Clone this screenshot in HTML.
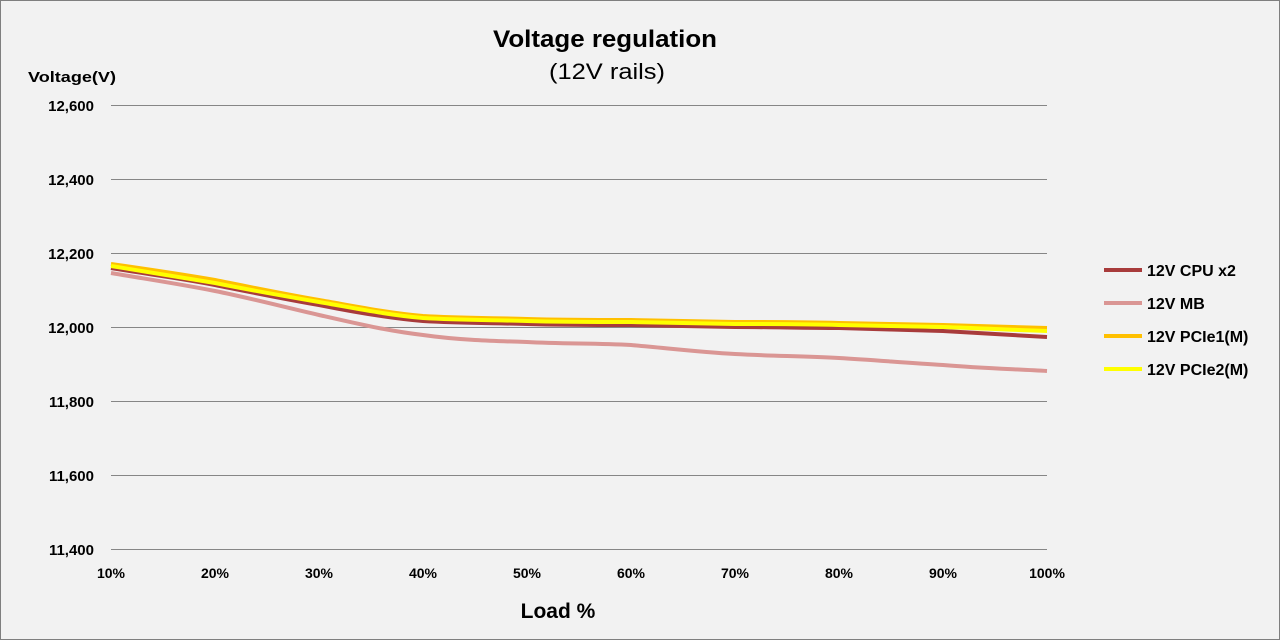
<!DOCTYPE html>
<html><head><meta charset="utf-8"><style>
html,body{margin:0;padding:0;background:#f2f2f2}
svg{display:block}
text{font-family:"Liberation Sans",sans-serif;fill:#000}
</style></head><body>
<svg width="1280" height="640" viewBox="0 0 1280 640">
<rect x="0.5" y="0.5" width="1279" height="639" fill="#f2f2f2" stroke="#7f7f7f"/>
<text x="493" y="47" font-size="24" font-weight="bold" textLength="224" lengthAdjust="spacingAndGlyphs">Voltage regulation</text>
<text x="549" y="79" font-size="22" textLength="116" lengthAdjust="spacingAndGlyphs">(12V rails)</text>
<text x="28" y="82" font-size="15" font-weight="bold" textLength="88" lengthAdjust="spacingAndGlyphs">Voltage(V)</text>
<g stroke="#868686" stroke-width="1">
<line x1="111" x2="1047" y1="105.5" y2="105.5"/>
<line x1="111" x2="1047" y1="179.5" y2="179.5"/>
<line x1="111" x2="1047" y1="253.5" y2="253.5"/>
<line x1="111" x2="1047" y1="327.5" y2="327.5"/>
<line x1="111" x2="1047" y1="401.5" y2="401.5"/>
<line x1="111" x2="1047" y1="475.5" y2="475.5"/>
<line x1="111" x2="1047" y1="549.5" y2="549.5"/>
</g>
<g font-size="15" font-weight="bold" text-anchor="end">
<text x="94" y="111">12,600</text>
<text x="94" y="185">12,400</text>
<text x="94" y="259">12,200</text>
<text x="94" y="333">12,000</text>
<text x="94" y="407">11,800</text>
<text x="94" y="481">11,600</text>
<text x="94" y="555">11,400</text>
</g>
<g font-size="14" font-weight="bold" text-anchor="middle">
<text x="111" y="578">10%</text><text x="215" y="578">20%</text><text x="319" y="578">30%</text>
<text x="423" y="578">40%</text><text x="527" y="578">50%</text><text x="631" y="578">60%</text>
<text x="735" y="578">70%</text><text x="839" y="578">80%</text><text x="943" y="578">90%</text>
<text x="1047" y="578">100%</text>
</g>
<text x="558" y="618" font-size="21" font-weight="bold" text-anchor="middle">Load %</text>
<g fill="none" stroke-width="4" stroke-linejoin="round" stroke-linecap="butt">
<path stroke="#a83b3b" d="M111,268 C146,274 180,278 215,285 C250,292 284,299 319,305 C354,312 388,318 423,321 C458,323 492,323 527,324 C562,325 596,325 631,325 C666,326 700,326 735,327 C770,327 804,328 839,328 C874,329 908,330 943,331 C978,333 1012,335 1047,337"/>
<path stroke="#da9694" d="M111,273 C146,279 180,284 215,291 C250,298 284,307 319,315 C354,323 388,331 423,335 C458,340 492,341 527,342 C562,344 596,343 631,345 C666,348 700,352 735,354 C770,356 804,356 839,358 C874,360 908,363 943,365 C978,368 1012,369 1047,371"/>
<path stroke="#ffc000" d="M111,264 C146,269 180,274 215,280 C250,287 284,294 319,300 C354,306 388,313 423,316 C458,318 492,318 527,319 C562,320 596,320 631,320 C666,321 700,321 735,322 C770,322 804,322 839,323 C874,324 908,324 943,325 C978,326 1012,327 1047,328"/>
<path stroke="#ffff00" d="M111,266 C146,272 180,277 215,283 C250,290 284,296 319,302 C354,308 388,315 423,318 C458,320 492,320 527,321 C562,322 596,322 631,322 C666,323 700,323 735,324 C770,324 804,324 839,325 C874,326 908,326 943,327 C978,328 1012,330 1047,331"/>
</g>
<g stroke-width="4">
<line x1="1104" x2="1142" y1="270" y2="270" stroke="#a83b3b"/>
<line x1="1104" x2="1142" y1="303" y2="303" stroke="#da9694"/>
<line x1="1104" x2="1142" y1="336" y2="336" stroke="#ffc000"/>
<line x1="1104" x2="1142" y1="369" y2="369" stroke="#ffff00"/>
</g>
<g font-size="16" font-weight="bold">
<text x="1147" y="276">12V CPU x2</text>
<text x="1147" y="309">12V MB</text>
<text x="1147" y="342">12V PCIe1(M)</text>
<text x="1147" y="375">12V PCIe2(M)</text>
</g>
</svg>
</body></html>
